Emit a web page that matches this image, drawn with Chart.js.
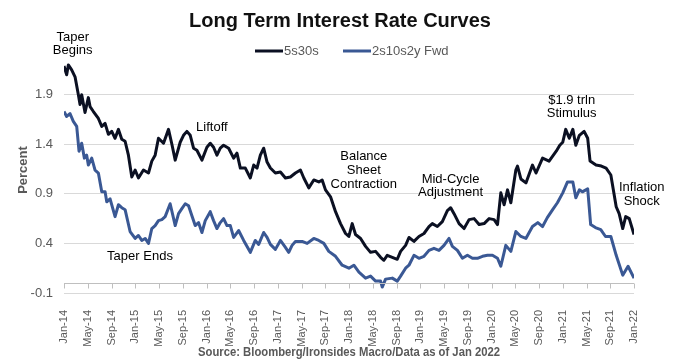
<!DOCTYPE html>
<html><head><meta charset="utf-8">
<script src="https://cdn.jsdelivr.net/npm/chart.js@4.4.1/dist/chart.umd.min.js"></script>
<style>html,body{margin:0;padding:0;background:#fff;}canvas{display:block;}</style>
</head><body>
<canvas id="c" width="677" height="362"></canvas>
<script>
// Months since Jan-2014 for each observation, and series values (percent)
const months5s30 = [0,0.45,0.73,1.29,1.86,2.42,2.70,2.98,3.54,4.10,4.39,4.95,5.79,6.36,6.92,7.48,8.04,8.60,9.17,9.73,10.29,10.85,11.42,11.98,12.54,13.38,14.23,14.79,15.35,15.91,16.76,17.60,18.17,18.73,19.57,20.13,20.70,21.26,21.82,22.38,23.23,24.07,24.63,25.19,25.76,26.32,26.88,27.73,28.57,29.13,29.70,30.54,31.38,31.95,32.51,33.07,33.63,34.20,34.76,35.60,36.45,37.29,38.13,38.98,39.82,40.39,41.23,42.07,42.91,43.48,44.04,44.89,45.73,46.57,47.42,47.98,48.54,49.10,49.95,50.79,51.63,52.48,53.32,53.88,54.44,55.29,56.13,56.69,57.53,58.10,58.94,59.78,60.63,61.47,62.03,62.88,63.72,64.57,65.13,65.69,66.54,67.38,68.22,69.07,69.91,70.76,71.60,72.44,73.01,73.57,74.13,74.70,75.26,76.10,76.38,76.95,77.8,78.9,79.5,80.6,81.7,82.3,82.9,83.5,84.0,84.5,85.1,85.7,86.2,86.8,87.6,88.2,88.6,89.6,90.5,91.3,92.1,93.0,93.5,94.1,94.6,95.2,96.0];
const values5s30 = [2.19,2.10,2.20,2.15,2.08,1.90,1.80,1.90,1.72,1.87,1.78,1.73,1.66,1.58,1.61,1.50,1.53,1.46,1.55,1.45,1.43,1.29,1.07,1.14,1.06,1.14,1.11,1.23,1.29,1.46,1.41,1.55,1.40,1.24,1.42,1.49,1.53,1.49,1.36,1.34,1.24,1.37,1.41,1.37,1.29,1.36,1.39,1.36,1.26,1.31,1.16,1.16,1.06,1.19,1.16,1.29,1.36,1.22,1.16,1.11,1.12,1.06,1.07,1.11,1.14,1.06,0.96,1.04,1.02,1.04,0.94,0.87,0.72,0.60,0.50,0.47,0.60,0.49,0.45,0.37,0.31,0.32,0.26,0.23,0.28,0.26,0.24,0.32,0.38,0.46,0.42,0.47,0.50,0.57,0.60,0.57,0.62,0.73,0.76,0.70,0.60,0.55,0.64,0.65,0.59,0.60,0.65,0.64,0.59,0.91,0.79,0.94,0.81,1.14,1.18,1.05,1.01,1.19,1.11,1.26,1.23,1.28,1.33,1.39,1.42,1.55,1.46,1.55,1.39,1.49,1.53,1.46,1.23,1.19,1.18,1.16,1.09,0.77,0.70,0.55,0.67,0.65,0.49];

const monthsFwd = [0,0.45,1.01,1.57,2.14,2.53,2.98,3.43,3.82,4.10,4.67,5.23,5.79,6.36,6.92,7.20,7.76,8.60,9.17,9.73,10.29,11.13,11.98,12.54,13.10,13.67,14.23,14.79,15.35,15.91,16.48,17.04,17.88,18.73,19.29,19.85,20.42,20.98,21.54,22.10,22.66,23.23,23.79,24.63,25.19,25.76,26.32,26.88,27.45,28.01,28.57,29.41,30.26,31.38,32.22,32.79,33.63,34.20,34.76,35.60,36.45,37.29,37.85,38.41,38.98,40.10,40.95,42.07,42.91,43.76,44.60,45.73,46.85,47.98,48.82,49.67,50.79,51.63,52.48,53.32,53.60,54.16,55.29,56.13,56.69,57.53,58.10,58.94,59.78,60.63,61.47,62.31,63.15,64.00,64.85,65.41,66.26,67.10,67.94,68.79,69.63,70.48,71.32,72.16,73.01,73.57,74.41,75.26,76.10,76.95,77.79,78.9,79.8,80.6,81.4,82.3,83.1,84.0,84.8,85.7,86.2,86.8,87.3,88.2,88.7,89.5,90.4,91.2,92.1,93.0,94.1,95.0,96.0];
const valuesFwd = [1.73,1.68,1.71,1.63,1.58,1.33,1.41,1.26,1.29,1.19,1.26,1.14,1.11,0.92,0.92,0.82,0.85,0.67,0.79,0.76,0.74,0.52,0.45,0.48,0.43,0.45,0.40,0.55,0.58,0.63,0.64,0.67,0.80,0.58,0.70,0.75,0.80,0.78,0.68,0.58,0.61,0.51,0.63,0.72,0.63,0.55,0.61,0.65,0.58,0.58,0.46,0.53,0.43,0.31,0.43,0.39,0.51,0.46,0.39,0.34,0.43,0.36,0.31,0.38,0.42,0.42,0.40,0.45,0.43,0.40,0.32,0.27,0.18,0.15,0.18,0.11,0.05,0.07,0.02,0.02,-0.04,0.04,0.05,0.02,0.07,0.15,0.18,0.28,0.25,0.27,0.33,0.35,0.33,0.38,0.45,0.37,0.33,0.25,0.28,0.25,0.25,0.27,0.28,0.28,0.25,0.17,0.38,0.32,0.52,0.47,0.45,0.57,0.61,0.57,0.66,0.74,0.81,0.91,1.02,1.02,0.86,0.94,0.92,0.95,0.59,0.56,0.54,0.47,0.47,0.28,0.08,0.17,0.05];

const tickLabels = ['Jan-14','May-14','Sep-14','Jan-15','May-15','Sep-15','Jan-16','May-16','Sep-16','Jan-17','May-17','Sep-17','Jan-18','May-18','Sep-18','Jan-19','May-19','Sep-19','Jan-20','May-20','Sep-20','Jan-21','May-21','Sep-21','Jan-22'];
const yTicks = [-0.1,0.4,0.9,1.4,1.9];
const seriesNames = ['5s30s','2s10s2y Fwd'];
const annotations = [
  {lines:['Taper','Begins'], m:1.47, v:2.48},
  {lines:['Liftoff'], m:24.9, v:1.567},
  {lines:['Taper Ends'], m:12.8, v:0.266},
  {lines:['Balance','Sheet','Contraction'], m:50.5, v:1.274},
  {lines:['Mid-Cycle','Adjustment'], m:65.1, v:1.05},
  {lines:['$1.9 trln','Stimulus'], m:85.5, v:1.846},
  {lines:['Inflation','Shock'], m:97.3, v:0.966}
];

const FONT = '"Liberation Sans", Arial, sans-serif';
const colors = ['#0b1022', '#3a5894'];

const decor = {
  id:'decor',
  afterDraw(chart){
    const ctx = chart.ctx, xs = chart.scales.x, ys = chart.scales.y, ca = chart.chartArea;
    ctx.save();
    // axis line at 0 with tick marks
    const y0 = Math.round(ys.getPixelForValue(0)) + 0.5;
    ctx.strokeStyle = '#bfbfbf'; ctx.lineWidth = 1;
    ctx.beginPath(); ctx.moveTo(ca.left, y0); ctx.lineTo(ca.right, y0);
    for (let i = 0; i < tickLabels.length; i++) {
      const x = Math.round(xs.getPixelForValue(i*4)) + 0.5;
      ctx.moveTo(x, y0); ctx.lineTo(x, y0 + 5);
    }
    ctx.stroke();
    // title
    ctx.fillStyle = '#111111';
    ctx.font = 'bold 20px ' + FONT;
    ctx.textAlign = 'center'; ctx.textBaseline = 'middle';
    ctx.fillText('Long Term Interest Rate Curves', 340, 21);
    // legend
    ctx.font = '13px ' + FONT; ctx.textAlign = 'left';
    const lx = [255, 343];
    seriesNames.forEach((n, i) => {
      ctx.strokeStyle = colors[i]; ctx.lineWidth = 3;
      ctx.beginPath(); ctx.moveTo(lx[i], 51); ctx.lineTo(lx[i] + 28, 51); ctx.stroke();
      ctx.fillStyle = '#595959';
      ctx.fillText(n, lx[i] + 29, 51);
    });
    // y axis title
    ctx.save();
    ctx.translate(23, 170); ctx.rotate(-Math.PI/2);
    ctx.font = 'bold 13px ' + FONT; ctx.fillStyle = '#595959'; ctx.textAlign = 'center';
    ctx.fillText('Percent', 0, 0);
    ctx.restore();
    // annotations
    ctx.font = '13px ' + FONT; ctx.fillStyle = '#000000'; ctx.textAlign = 'center';
    annotations.forEach(a => {
      const x = xs.getPixelForValue(a.m), y = ys.getPixelForValue(a.v);
      a.lines.forEach((t, k) => ctx.fillText(t, x, y + k*13.7));
    });
    // source (condensed bold, as in the reference)
    const src = 'Source: Bloomberg/Ironsides Macro/Data as of Jan 2022';
    ctx.font = 'bold 12.5px ' + FONT;
    ctx.fillStyle = '#595959';
    const w = ctx.measureText(src).width;
    const sx = Math.min(1, 302 / w);
    ctx.save();
    ctx.translate(349, 353); ctx.scale(sx, 1);
    ctx.fillText(src, 0, 0);
    ctx.restore();
    ctx.restore();
  }
};

new Chart(document.getElementById('c'), {
  type: 'line',
  data: {
    datasets: [
      {label: seriesNames[0], data: months5s30.map((m,i)=>({x:m, y:values5s30[i]})), borderColor: colors[0], borderWidth: 3, pointRadius: 0, tension: 0, borderJoinStyle:'round'},
      {label: seriesNames[1], data: monthsFwd.map((m,i)=>({x:m, y:valuesFwd[i]})), borderColor: colors[1], borderWidth: 3, pointRadius: 0, tension: 0, borderJoinStyle:'round'}
    ]
  },
  options: {
    responsive: false, animation: false, devicePixelRatio: 1,
    layout: {padding: {left: 0, right: 43, top: 55, bottom: 0}},
    plugins: {legend: {display: false}, title: {display: false}, tooltip: {enabled: false}},
    scales: {
      x: {
        type: 'linear', min: 0, max: 96,
        afterBuildTicks(s){ s.ticks = tickLabels.map((_, i) => ({value: i*4})); },
        afterFit(s){ s.height = 69; },
        grid: {display: false}, border: {display: false},
        ticks: {autoSkip: false, minRotation: 90, maxRotation: 90, padding: 9,
          color: '#595959', font: {family: FONT, size: 11},
          callback: (v) => tickLabels[Math.round(v/4)]}
      },
      y: {
        min: -0.1, max: 2.3,
        afterBuildTicks(s){ s.ticks = yTicks.map(v => ({value: v})); },
        afterFit(s){ s.width = 64; },
        grid: {color: '#d9d9d9', lineWidth: 1, drawTicks: false},
        border: {display: false},
        ticks: {padding: 11, color: '#595959', font: {family: FONT, size: 13},
          callback: (v) => v.toFixed(1)}
      }
    }
  },
  plugins: [decor]
});
</script>
</body></html>
